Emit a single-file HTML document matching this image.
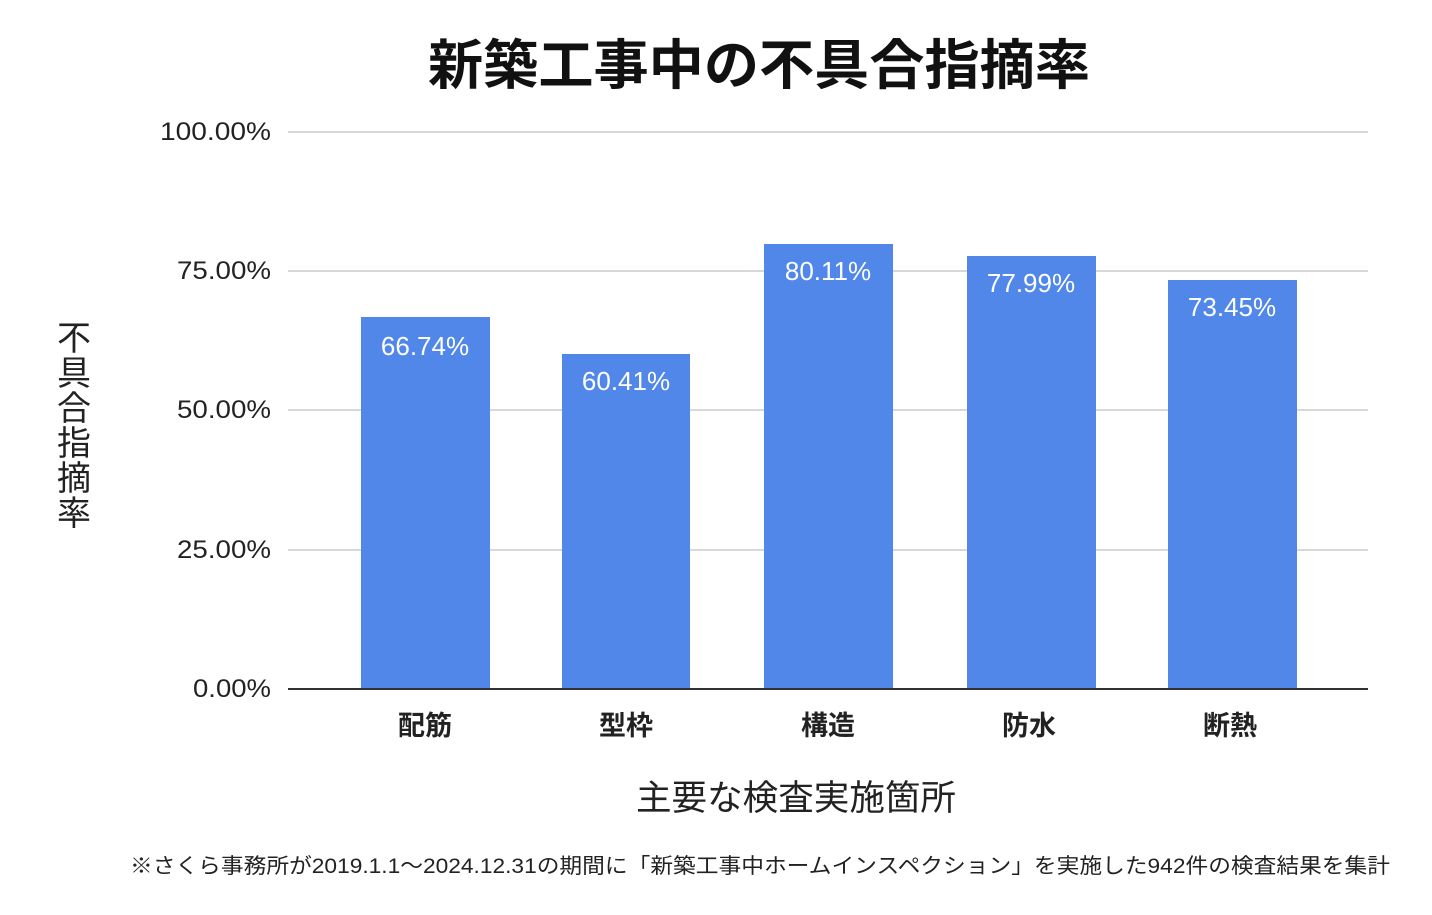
<!DOCTYPE html>
<html><head><meta charset="utf-8"><style>
html,body{margin:0;padding:0;background:#fff;}
svg text{font-family:"Liberation Sans","Noto Sans CJK JP",sans-serif;}
</style></head><body>
<svg width="1432" height="910" viewBox="0 0 1432 910" xmlns="http://www.w3.org/2000/svg">
<rect width="1432" height="910" fill="#fff"/>
<text x="428" y="84" font-size="54" font-weight="bold" fill="#111" textLength="662" lengthAdjust="spacingAndGlyphs">新築工事中の不具合指摘率</text>
<g stroke="#ccc" stroke-width="1.5">
<line x1="288" x2="1368" y1="132" y2="132"/>
<line x1="288" x2="1368" y1="271" y2="271"/>
<line x1="288" x2="1368" y1="410" y2="410"/>
<line x1="288" x2="1368" y1="550" y2="550"/>
</g>
<g font-size="25" fill="#222">
<text x="160" y="140" textLength="111" lengthAdjust="spacingAndGlyphs">100.00%</text>
<text x="177" y="279" textLength="94" lengthAdjust="spacingAndGlyphs">75.00%</text>
<text x="177" y="418" textLength="94" lengthAdjust="spacingAndGlyphs">50.00%</text>
<text x="177" y="558" textLength="94" lengthAdjust="spacingAndGlyphs">25.00%</text>
<text x="193" y="697" textLength="78" lengthAdjust="spacingAndGlyphs">0.00%</text>
</g>
<g fill="#5087E8">
<rect x="361" y="317" width="129" height="372"/>
<rect x="562" y="354" width="128" height="335"/>
<rect x="764" y="244" width="129" height="445"/>
<rect x="967" y="256" width="129" height="433"/>
<rect x="1168" y="280" width="129" height="409"/>
</g>
<line x1="288" x2="1368" y1="689" y2="689" stroke="#333" stroke-width="2"/>
<g font-size="26" fill="#fff" text-anchor="middle">
<text x="425" y="355">66.74%</text>
<text x="626" y="390">60.41%</text>
<text x="828" y="280">80.11%</text>
<text x="1031" y="292">77.99%</text>
<text x="1232" y="316">73.45%</text>
</g>
<g font-size="27" font-weight="bold" fill="#222" text-anchor="middle">
<text x="425" y="735">配筋</text>
<text x="626" y="735">型枠</text>
<text x="828" y="735">構造</text>
<text x="1029" y="735">防水</text>
<text x="1230" y="735">断熱</text>
</g>
<text x="636" y="810" font-size="35" fill="#222" textLength="320" lengthAdjust="spacingAndGlyphs">主要な検査実施箇所</text>
<g font-size="34" fill="#222" text-anchor="middle">
<text x="74" y="350">不</text>
<text x="74" y="385">具</text>
<text x="74" y="420">合</text>
<text x="74" y="455">指</text>
<text x="74" y="490">摘</text>
<text x="74" y="525">率</text>
</g>
<text x="130" y="873" font-size="21" fill="#222" textLength="1260" lengthAdjust="spacingAndGlyphs">※さくら事務所が2019.1.1～2024.12.31の期間に「新築工事中ホームインスペクション」を実施した942件の検査結果を集計</text>
</svg>
</body></html>
